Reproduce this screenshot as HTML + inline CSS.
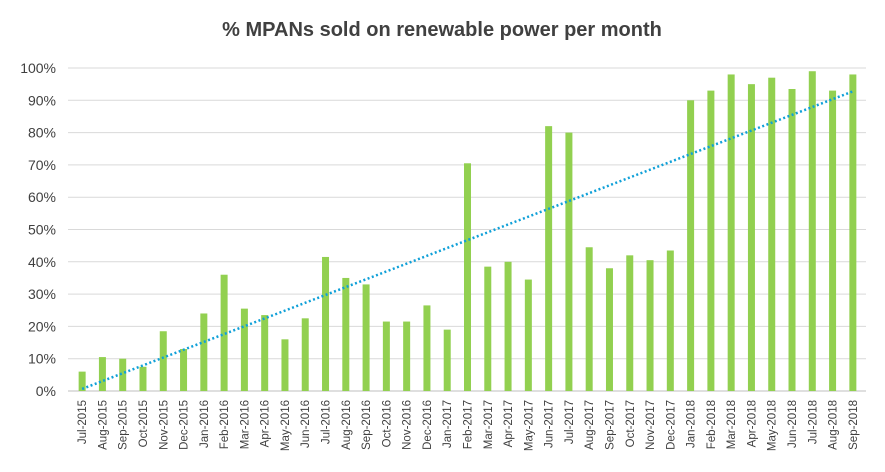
<!DOCTYPE html>
<html><head><meta charset="utf-8"><style>
html,body{margin:0;padding:0;background:#fff}
svg{display:block;font-family:"Liberation Sans",sans-serif}
</style></head><body>
<svg id="chart" width="885" height="472" viewBox="0 0 885 472">
<rect width="885" height="472" fill="#fff"/>
<text x="442" y="36" text-anchor="middle" font-size="20" font-weight="bold" fill="#404040">% MPANs sold on renewable power per month</text>
<g id="grid"></g><g id="bars"></g><g id="trend"></g><g id="xlabels"></g><g id="ylabels"></g>
</svg>
<script>
const categories=["Jul-2015","Aug-2015","Sep-2015","Oct-2015","Nov-2015","Dec-2015","Jan-2016","Feb-2016","Mar-2016","Apr-2016","May-2016","Jun-2016","Jul-2016","Aug-2016","Sep-2016","Oct-2016","Nov-2016","Dec-2016","Jan-2017","Feb-2017","Mar-2017","Apr-2017","May-2017","Jun-2017","Jul-2017","Aug-2017","Sep-2017","Oct-2017","Nov-2017","Dec-2017","Jan-2018","Feb-2018","Mar-2018","Apr-2018","May-2018","Jun-2018","Jul-2018","Aug-2018","Sep-2018"];
const values=[6,10.5,10,7.5,18.5,13,24,36,25.5,23.5,16,22.5,41.5,35,33,21.5,21.5,26.5,19,70.5,38.5,40,34.5,82,80,44.5,38,42,40.5,43.5,90,93,98,95,97,93.5,99,93,98];
const yTicks=[0,10,20,30,40,50,60,70,80,90,100];
const NS="http://www.w3.org/2000/svg";
const x0=72,x1=863,y0=391,yTop=68;
const gx0=68,gx1=866;
const step=(x1-x0)/categories.length;
function xPos(i){return x0+step*(i+0.5);}
function yPos(v){return y0-(v/100)*(y0-yTop);}
function mk(tag,attrs,parent){const e=document.createElementNS(NS,tag);for(const k in attrs)e.setAttribute(k,attrs[k]);parent.appendChild(e);return e;}
const grid=document.getElementById('grid'),ylab=document.getElementById('ylabels');
yTicks.forEach(t=>{
  const l=mk('line',{x1:gx0,x2:gx1,y1:yPos(t),y2:yPos(t),stroke:t===0?'#bfbfbf':'#d9d9d9','stroke-width':1},grid);
  
  
  const tx=mk('text',{x:56,y:yPos(t)+5,'text-anchor':'end','font-size':14,fill:'#404040'},ylab);
  tx.textContent=t+'%';
  
  
});
const bars=document.getElementById('bars'),xlab=document.getElementById('xlabels');
values.forEach((v,i)=>{
  const r=mk('rect',{x:xPos(i)-3.5,y:yPos(v),width:7,height:y0-yPos(v),fill:'#92d050'},bars);
  
  
});
categories.forEach((c,i)=>{
  const t=mk('text',{transform:`translate(${xPos(i)+4},400) rotate(-90)`,'text-anchor':'end','font-size':11.5,fill:'#404040'},xlab);
  t.textContent=c;
  
  
});
const n=values.length;let sx=0,sy=0,sxy=0,sxx=0;
values.forEach((v,i)=>{sx+=i;sy+=v;sxy+=i*v;sxx+=i*i;});
const slope=(n*sxy-sx*sy)/(n*sxx-sx*sx),inter=(sy-slope*sx)/n;
const tl=mk('line',{x1:xPos(0),y1:yPos(inter),x2:xPos(n-1),y2:yPos(inter+slope*(n-1)),stroke:'#0fa0d8','stroke-width':2.5,'stroke-dasharray':'2 2.5'},document.getElementById('trend'));


</script>
</body></html>
